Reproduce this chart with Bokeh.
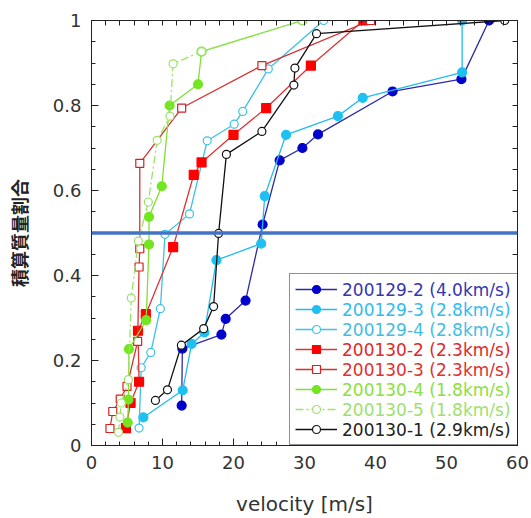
from bokeh.plotting import figure
from bokeh.models import (Range1d, LinearAxis, FixedTicker, PrintfTickFormatter,
                          Span, Legend, LegendItem)
from bokeh.embed import file_html
from bokeh.resources import INLINE

# ---------------- data ----------------
x_ticks = [0, 10, 20, 30, 40, 50, 60]
x_minor = [2, 4, 6, 8, 12, 14, 16, 18, 22, 24, 26, 28, 32, 34, 36, 38, 42, 44, 46, 48, 52, 54, 56, 58]
y_ticks = [0, 0.2, 0.4, 0.6, 0.8, 1.0]
y_minor = [0.05, 0.1, 0.15, 0.25, 0.3, 0.35, 0.45, 0.5, 0.55, 0.65, 0.7, 0.75, 0.85, 0.9, 0.95]

labels = ["200129-2 (4.0km/s)", "200129-3 (2.8km/s)", "200129-4 (2.8km/s)",
          "200130-2 (2.3km/s)", "200130-3 (2.3km/s)", "200130-4 (1.8km/s)",
          "200130-5 (1.8km/s)", "200130-1 (2.9km/s)"]

v_200129_2 = [12.7, 12.8, 18.3, 18.9, 21.7, 24.1, 26.5, 29.7, 31.9, 42.4, 52.1, 56.0]
m_200129_2 = [0.094, 0.228, 0.261, 0.298, 0.341, 0.52, 0.671, 0.70, 0.732, 0.833, 0.862, 1.0]

v_200129_3 = [7.3, 12.85, 14.1, 15.9, 17.6, 23.9, 24.4, 27.4, 34.7, 38.2, 52.2, 52.2]
m_200129_3 = [0.066, 0.13, 0.239, 0.266, 0.436, 0.475, 0.587, 0.731, 0.775, 0.818, 0.878, 1.0]

v_200129_4 = [6.7, 7.0, 8.35, 9.7, 10.35, 13.8, 16.3, 20.1, 21.3, 24.9, 32.7]
m_200129_4 = [0.041, 0.183, 0.219, 0.322, 0.497, 0.545, 0.717, 0.756, 0.786, 0.886, 1.0]

v_200130_2 = [4.85, 5.5, 6.7, 6.55, 7.65, 11.5, 14.4, 15.5, 20.0, 24.6, 30.9, 38.3]
m_200130_2 = [0.041, 0.10, 0.15, 0.27, 0.309, 0.467, 0.637, 0.666, 0.731, 0.794, 0.894, 1.0]

v_200130_3 = [2.6, 3.0, 4.05, 5.0, 6.5, 6.7, 6.8, 6.8, 12.7, 24.0, 39.3]
m_200130_3 = [0.04, 0.08, 0.109, 0.139, 0.245, 0.42, 0.463, 0.664, 0.794, 0.894, 1.0]

v_200130_4 = [5.1, 5.2, 5.27, 7.7, 8.1, 8.1, 9.9, 11.0, 15.0, 15.5, 29.7]
m_200130_4 = [0.054, 0.108, 0.227, 0.295, 0.473, 0.538, 0.61, 0.80, 0.85, 0.927, 1.0]

v_200130_5 = [3.8, 4.0, 4.2, 5.2, 5.6, 6.6, 8.0, 9.25, 11.05, 11.5, 15.5, 29.7]
m_200130_5 = [0.031, 0.067, 0.10, 0.155, 0.347, 0.481, 0.573, 0.718, 0.775, 0.898, 0.927, 1.0]

v_200130_1 = [9.0, 10.7, 12.66, 15.8, 17.2, 17.9, 19.0, 24.0, 28.5, 28.65, 31.7, 58.2]
m_200130_1 = [0.106, 0.131, 0.236, 0.275, 0.327, 0.499, 0.685, 0.739, 0.848, 0.888, 0.969, 1.0]

# ---------------- styles ----------------
series = [
    # (x, y, line color, marker, marker fill, marker line, size, dash, label color)
    (v_200129_2, m_200129_2, "#2b2ba6", "circle", "#0000cc", "#0000cc", 9, "solid", "#3636b0"),
    (v_200129_3, m_200129_3, "#22bbee", "circle", "#1ec0f2", "#1ec0f2", 9, "solid", "#33bbee"),
    (v_200129_4, m_200129_4, "#3cc2e6", "circle", "white", "#3cc2e6", 8, "solid", "#44bde0"),
    (v_200130_2, m_200130_2, "#e03434", "square", "#ff0000", "#ff0000", 9, "solid", "#e02828"),
    (v_200130_3, m_200130_3, "#d83030", "square", "white", "#d82020", 8, "solid", "#e03030"),
    (v_200130_4, m_200130_4, "#7ee232", "circle", "#72e61e", "#72e61e", 9, "solid", "#8ce040"),
    (v_200130_5, m_200130_5, "#9ae36a", "circle", "white", "#9ae36a", 8, "8 3 2 3", "#9ee070"),
    (v_200130_1, m_200130_1, "#111111", "circle", "white", "#111111", 8, "solid", "#222222"),
]

FONT = "DejaVu Sans"
TXT = "#333333"

p = figure(width=531, height=518, x_range=Range1d(0, 60), y_range=Range1d(0, 1),
           output_backend="svg", toolbar_location=None,
           min_border_left=91, min_border_right=14, min_border_top=20, min_border_bottom=72)
p.xgrid.visible = False
p.ygrid.visible = False
p.outline_line_color = "#222222"
p.outline_line_width = 1
p.background_fill_color = "white"
p.border_fill_color = "white"

def style_axis(ax):
    ax.major_tick_in = 7
    ax.major_tick_out = 0
    ax.minor_tick_in = 4
    ax.minor_tick_out = 0
    ax.axis_line_color = "#222222"
    ax.major_tick_line_color = "#222222"
    ax.minor_tick_line_color = "#222222"

xa = p.xaxis[0]
ya = p.yaxis[0]
for ax, maj, mnr in ((xa, x_ticks, x_minor), (ya, y_ticks, y_minor)):
    style_axis(ax)
    ax.ticker = FixedTicker(ticks=maj, minor_ticks=mnr)
    ax.formatter = PrintfTickFormatter(format="%g")
    ax.major_label_text_font = FONT
    ax.major_label_text_font_size = "18px"
    ax.major_label_text_color = TXT
    ax.major_label_standoff = 10

xa.axis_label = "velocity [m/s]"
xa.axis_label_text_font = FONT
xa.axis_label_text_font_size = "20px"
xa.axis_label_text_font_style = "normal"
xa.axis_label_text_color = TXT
xa.axis_label_standoff = 20
ya.axis_label = "積算質量割合"
ya.axis_label_text_font = "Noto Sans CJK JP"
ya.axis_label_text_font_size = "18px"
ya.axis_label_text_font_style = "bold"
ya.axis_label_text_color = "#222222"
ya.axis_label_standoff = 18

# mirrored tick axes (tick marks only, no labels)
top_ax = LinearAxis(ticker=FixedTicker(ticks=[], minor_ticks=sorted(x_ticks + x_minor)))
right_ax = LinearAxis(ticker=FixedTicker(ticks=[], minor_ticks=sorted(y_ticks + y_minor)))
for ax in (top_ax, right_ax):
    style_axis(ax)
    ax.minor_tick_in = 5
    ax.major_label_standoff = 0
p.add_layout(top_ax, "above")
p.add_layout(right_ax, "right")

items = []
for (xs, ys, lc, mk, mf, ml, sz, dash, _tc), lab in zip(series, labels):
    lr = p.line(xs, ys, line_color=lc, line_width=1.3, line_dash=dash)
    sr = p.scatter(xs, ys, marker=mk, size=sz, fill_color=mf, line_color=ml, line_width=1.2)
    items.append(LegendItem(label=lab, renderers=[lr, sr]))

p.add_layout(Span(location=0.5, dimension="width", line_color="#4472c4", line_width=3.5))

# legend geometry (screen px)
PAD, GW, STAND, LW, ROW = 5, 42, 6, 170, 20
frame_w = 531 - 91 - 14
leg_w = 2 * PAD + GW + STAND + LW
leg_x = frame_w - leg_w
n = len(items)

common = dict(padding=PAD, glyph_width=GW, glyph_height=ROW, label_height=ROW,
              label_width=LW, label_standoff=STAND, spacing=0, margin=0,
              label_text_font=FONT, label_text_font_size="17px")

box = Legend(items=items, location=(leg_x, 0), border_line_color="#222222",
             border_line_width=1, background_fill_color="white", background_fill_alpha=1,
             label_text_alpha=0, **common)
p.add_layout(box)

dummy = p.line([0, 0], [0, 0], line_alpha=0)
for i, (s, lab) in enumerate(zip(series, labels)):
    row_bottom = PAD + (n - 1 - i) * ROW
    lg = Legend(items=[LegendItem(label=lab, renderers=[dummy])],
                location=(leg_x, row_bottom - PAD),
                border_line_alpha=0, background_fill_alpha=0,
                label_text_color=s[8], **common)
    p.add_layout(lg)

open("out.html", "w").write(file_html(p, INLINE))
